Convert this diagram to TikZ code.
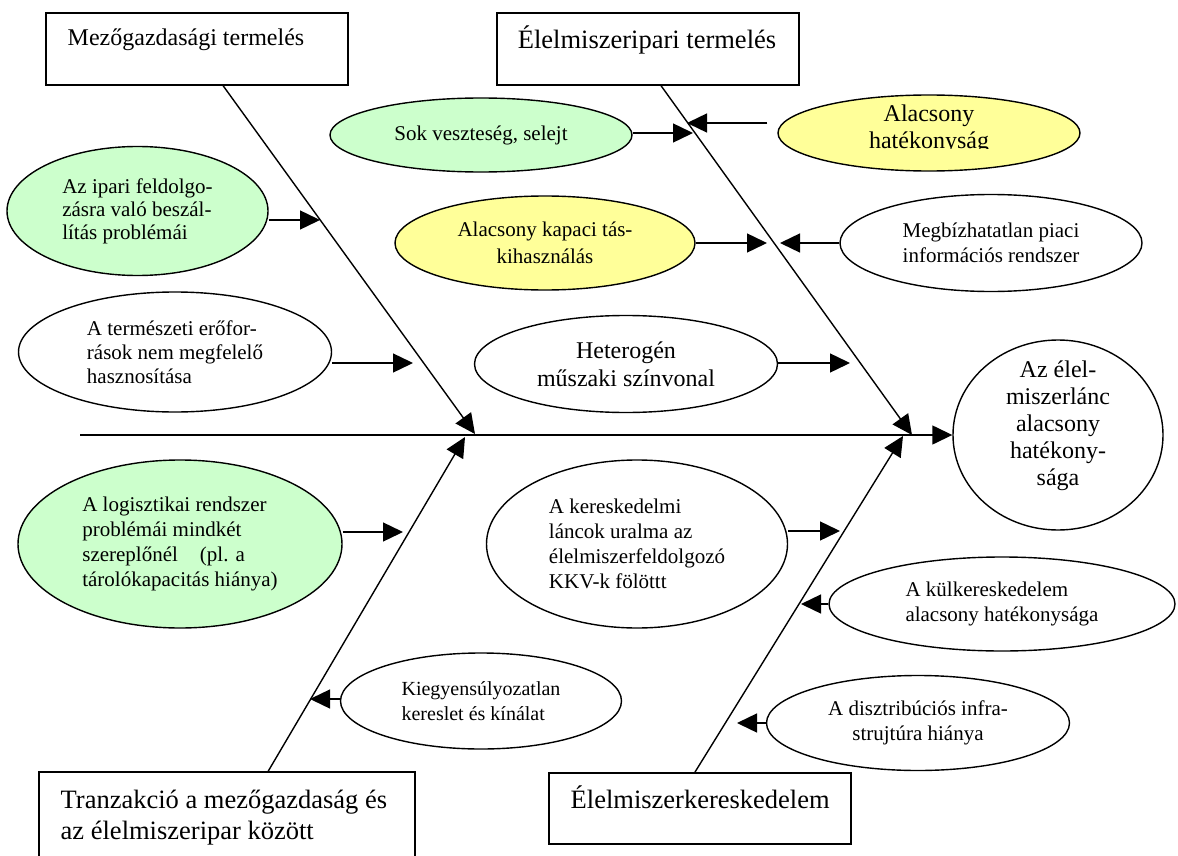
\documentclass[tikz,border=0pt]{standalone}
\usepackage{fontspec}
\setmainfont{Liberation Serif}
\usetikzlibrary{arrows.meta,shapes.geometric,calc}
\definecolor{leafgreen}{RGB}{204,255,204}
\definecolor{paleyellow}{RGB}{255,255,153}
\begin{document}
\begin{tikzpicture}[x=1pt,y=-1pt,line width=1.4pt,
  cause/.style={draw,ellipse,inner sep=0pt},
  headbox/.style={draw,rectangle,inner sep=0pt},
  tip/.style={-{Triangle[length=20pt,width=19pt]}},
  txt/.style={inner sep=0pt},
  small/.style={font=\fontsize{21}{25}\selectfont},
  mid/.style={font=\fontsize{24}{27}\selectfont},
  big/.style={font=\fontsize{26.5}{31}\selectfont}]
\clip (0,0) rectangle (1178,856);

% category boxes
\node[headbox,minimum width=302pt,minimum height=72pt] (agri) at (197,49) {};
\node[txt,anchor=base west,font=\fontsize{24}{28}\selectfont] (agri-t) at (67,46) {Mezőgazdasági termelés};
\node[headbox,minimum width=302pt,minimum height=72pt] (food) at (648,49) {};
\node[txt,anchor=base,big] (food-t) at (647,49) {Élelmiszeripari termelés};
\node[headbox,minimum width=376pt,minimum height=98pt] (trans) at (227,821) {};
\node[txt,anchor=north west,align=left,big] (trans-t) at (60,789) {Tranzakció a mezőgazdaság és\\az élelmiszeripar között};
\node[headbox,minimum width=302pt,minimum height=71pt] (retail) at (700,808.5) {};
\node[txt,anchor=base west,big] (retail-t) at (570,808) {Élelmiszerkereskedelem};

% effect
\node[cause,minimum width=210pt,minimum height=190pt] (eff) at (1058,435) {};
\node[txt,align=center,mid] (eff-t) at (1058,426) {Az élel-\\miszerlánc\\alacsony\\hatékony-\\sága};

% causes
\node[cause,fill=leafgreen,minimum width=261pt,minimum height=129pt,align=left,font=\fontsize{21}{23}\selectfont] (ip) at (137.5,211)
  {Az ipari feldolgo-\\zásra való beszál-\\lítás problémái};
\node[cause,fill=leafgreen,minimum width=302pt,minimum height=74pt,small] (sok) at (481,135) {Sok veszteség, selejt};
\node[cause,fill=paleyellow,minimum width=302pt,minimum height=76pt] (ah) at (929,133) {};
\begin{scope}
  % the lower line of this label is cut off just under its baseline
  \clip (780,90) rectangle (1080,148.5);
  \node[txt,align=center,mid] (ah-t) at (929,129) {Alacsony\\hatékonyság};
\end{scope}
\node[cause,fill=paleyellow,minimum width=300pt,minimum height=94pt,align=center,font=\fontsize{21}{27}\selectfont] (kap) at (545,243)
  {Alacsony kapaci tás-\\kihasználás};
\node[cause,minimum width=302pt,minimum height=97pt,align=center,small] (megb) at (991,243)
  {Megbízhatatlan piaci\\információs rendszer};
\node[cause,minimum width=313pt,minimum height=120pt,align=left,font=\fontsize{21}{24}\selectfont] (term) at (175,352)
  {A természeti erőfor-\\rások nem megfelelő\\hasznosítása};
\node[cause,minimum width=303pt,minimum height=97pt,align=center,font=\fontsize{24}{28}\selectfont] (het) at (626,364)
  {Heterogén\\műszaki színvonal};
\node[cause,fill=leafgreen,minimum width=324pt,minimum height=168pt,align=left,small] (log) at (180,544)
  {A logisztikai rendszer\\problémái mindkét\\szereplőnél\hspace*{22pt}(pl. a\\tárolókapacitás hiánya)};
\node[cause,minimum width=301pt,minimum height=168pt,align=left,small] (ker) at (637,544)
  {A kereskedelmi\\láncok uralma az\\élelmiszerfeldolgozó\\KKV-k fölöttt};
\node[cause,minimum width=346pt,minimum height=94pt,align=left,small] (kul) at (1002,604)
  {A külkereskedelem\\alacsony hatékonysága};
\node[cause,minimum width=281pt,minimum height=96pt,align=left,font=\fontsize{20}{25}\selectfont] (kieg) at (481,701)
  {Kiegyensúlyozatlan\\kereslet és kínálat};
\node[cause,minimum width=303pt,minimum height=95pt,align=center,small] (diszt) at (918,723)
  {A disztribúciós infra-\\strujtúra hiánya};

% spine and bones
\coordinate (spine) at (80,435);
\draw[tip] (spine) -- (eff.west);
\coordinate (j1) at (475,434);
\coordinate (j2) at (912,435);
\coordinate (j3) at (465,437);
\coordinate (j4) at (903,436);
\draw[tip] ($(agri.south west)!0.586!(agri.south east)$) -- (j1);
\draw[tip] ($(food.south west)!0.543!(food.south east)$) -- (j2);
\draw[tip] ($(trans.north west)!0.609!(trans.north east)$) -- (j3);
\draw[tip] ($(retail.north west)!0.483!(retail.north east)$) -- (j4);

% cause arrows
\coordinate (t-ip) at (320,220);
\coordinate (t-sok) at (693,133);
\coordinate (t-ah) at (687,123);
\coordinate (t-kap) at (767,243);
\coordinate (t-megb) at (780,243);
\coordinate (t-term) at (413,363);
\coordinate (t-het) at (850,363);
\coordinate (t-log) at (403,532);
\coordinate (t-ker) at (840,531);
\coordinate (t-kul) at (801,604);
\coordinate (t-kieg) at (310,699);
\coordinate (t-diszt) at (737,723);
\draw[tip] (ip.east |- t-ip) -- (t-ip);
\draw[tip] (sok.east |- t-sok) -- (t-sok);
\draw[tip] ([xshift=-10pt]ah.west |- t-ah) -- (t-ah);
\draw[tip] (kap.east) -- (t-kap);
\draw[tip] (megb.west) -- (t-megb);
\draw[tip] (term.east |- t-term) -- (t-term);
\draw[tip] (het.east |- t-het) -- (t-het);
\draw[tip] (log.east |- t-log) -- (t-log);
\draw[tip] (ker.east |- t-ker) -- (t-ker);
\draw[tip] (kul.west) -- (t-kul);
\draw[tip] (kieg.west |- t-kieg) -- (t-kieg);
\draw[tip] (diszt.west) -- (t-diszt);
\end{tikzpicture}
\end{document}
